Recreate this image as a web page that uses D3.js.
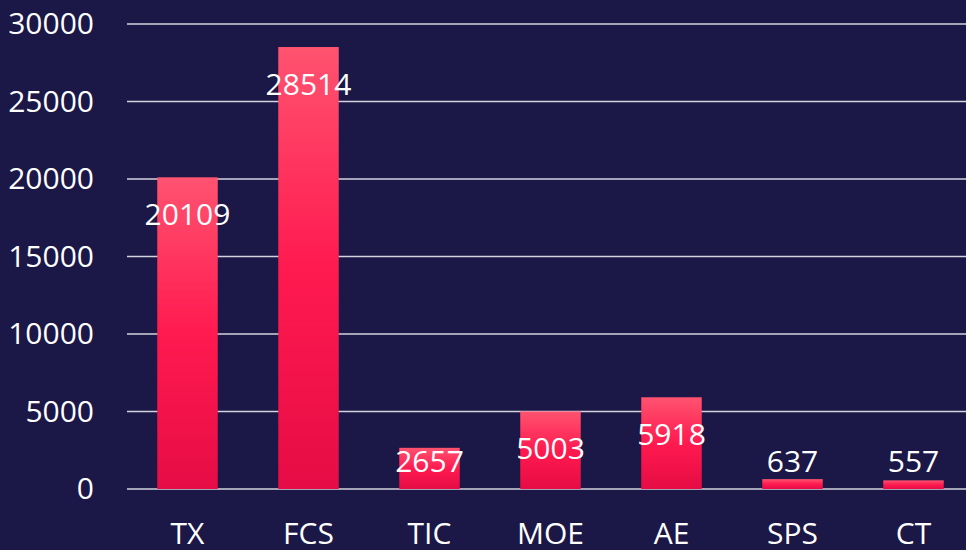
<!DOCTYPE html>
<html><head><meta charset="utf-8">
<script src="https://cdn.jsdelivr.net/npm/d3@7"></script>
<style>html,body{margin:0;padding:0;background:#1b1746;}svg{display:block;}</style>
</head><body>
<svg id="chart" width="966" height="550"></svg>
<script>
const categories = ["TX","FCS","TIC","MOE","AE","SPS","CT"];
const values = [20109,28514,2657,5003,5918,637,557];
const yTicks = [0,5000,10000,15000,20000,25000,30000];

const W = 966, H = 550;
const svg = d3.select("#chart");
svg.append("rect").attr("width",W).attr("height",H).attr("fill","#1b1746");

const defs = svg.append("defs");
const grad = defs.append("linearGradient").attr("id","barGrad")
  .attr("x1",0).attr("y1",0).attr("x2",0).attr("y2",1);
grad.append("stop").attr("offset","0%").attr("stop-color","#ff5370");
grad.append("stop").attr("offset","50%").attr("stop-color","#ff1a4f");
grad.append("stop").attr("offset","100%").attr("stop-color","#e60c45");

const x = d3.scaleBand().domain(categories).range([127,974]).paddingInner(0.5).paddingOuter(0.25);
const y = d3.scaleLinear().domain([0,30000]).range([489,24]);

const font = "'Open Sans','Noto Sans',sans-serif";
const fs = "30px";

// gridlines
svg.append("g").selectAll("line").data(yTicks).join("line")
  .attr("x1",127).attr("x2",W)
  .attr("y1",d=>y(d)).attr("y2",d=>y(d))
  .attr("stroke","#d4d3df").attr("stroke-width",1.6);

// y axis labels
const yAxis = d3.axisLeft(y).tickValues(yTicks).tickSize(0).tickPadding(33).tickFormat(d3.format("d"));
const gy = svg.append("g").attr("transform","translate(127,0)").call(yAxis);
gy.select(".domain").remove();
gy.selectAll("text").attr("fill","#ffffff").style("font-family",font).style("font-size",fs);

// x axis labels
const xAxis = d3.axisBottom(x).tickSize(0).tickPadding(34);
const gx = svg.append("g").attr("transform","translate(0,489)").call(xAxis);
gx.select(".domain").remove();
gx.selectAll("text").attr("fill","#ffffff").style("font-family",font).style("font-size",fs);

// bars
svg.append("g").selectAll("rect").data(categories).join("rect")
  .attr("x",d=>x(d)).attr("width",x.bandwidth())
  .attr("y",(d,i)=>y(values[i])).attr("height",(d,i)=>y(0)-y(values[i]))
  .attr("fill","url(#barGrad)");

// value labels
svg.append("g").selectAll("text").data(categories).join("text")
  .attr("x",d=>x(d)+x.bandwidth()/2)
  .attr("y",(d,i)=>Math.min(y(values[i])+36, y(0)-29))
  .attr("text-anchor","middle").attr("dominant-baseline","central")
  .attr("fill","#ffffff").style("font-family",font).style("font-size",fs)
  .text((d,i)=>values[i]);
</script>
</body></html>
